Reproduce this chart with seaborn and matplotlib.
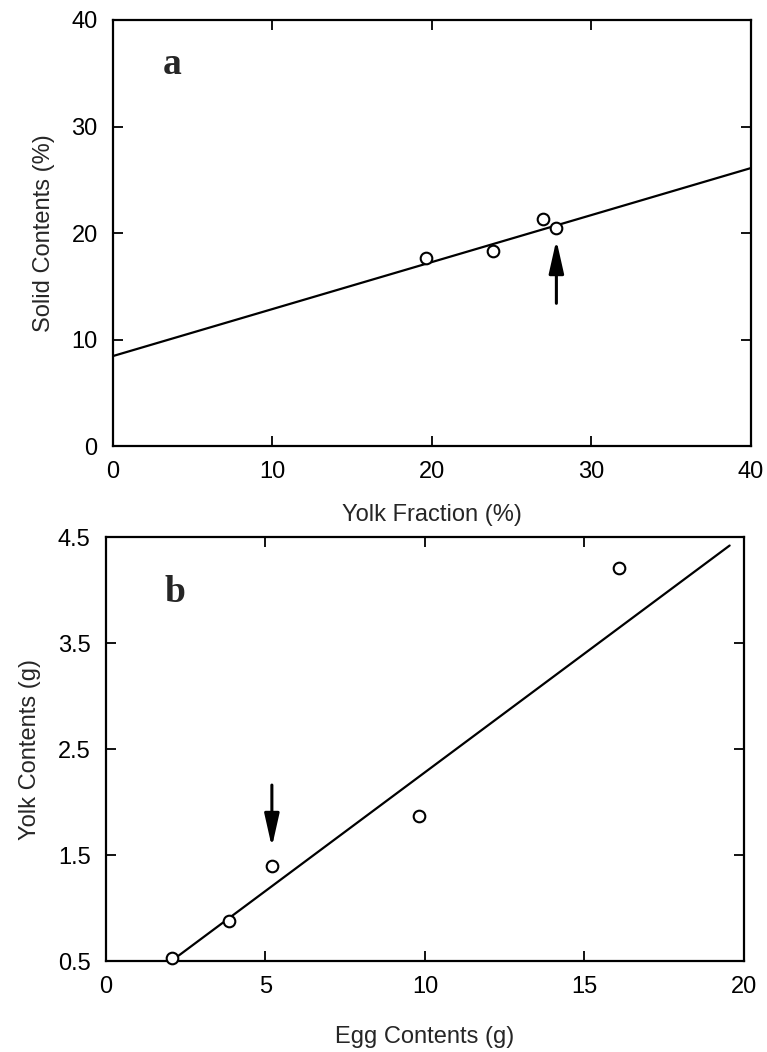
import matplotlib
matplotlib.use("Agg")
import matplotlib.pyplot as plt
import seaborn as sns
import pandas as pd

# ---- data: panel a ----
a_yolk_fraction = [19.6, 23.8, 26.96, 27.8]
a_solid_contents = [17.65, 18.3, 21.3, 20.5]
a_fit_x = [0, 40]
a_fit_y = [8.45, 26.1]
a_arrow_x = 27.8
a_arrow_from = 13.4
a_arrow_to = 19.35
a_xticks = [0, 10, 20, 30, 40]
a_yticks = [0, 10, 20, 30, 40]

# ---- data: panel b ----
b_egg_contents = [2.07, 3.86, 5.2, 9.81, 16.08]
b_yolk_contents = [0.53, 0.88, 1.40, 1.87, 4.21]
b_fit_x = [2.05, 19.55]
b_fit_y = [0.5, 4.42]
b_arrow_x = 5.2
b_arrow_from = 2.16
b_arrow_to = 1.575
b_xticks = [0, 5, 10, 15, 20]
b_yticks = [0.5, 1.5, 2.5, 3.5, 4.5]

sns.set_theme(style="ticks")
plt.rcParams["font.family"] = ["Liberation Sans", "DejaVu Sans"]

fig = plt.figure(figsize=(7.67, 10.52), dpi=100)
ax_a = fig.add_axes([0.1473, 0.5760, 0.8318, 0.4050])
ax_b = fig.add_axes([0.1382, 0.0865, 0.8318, 0.4030])

ARROW = dict(arrowstyle="-|>,head_length=2.0,head_width=0.45", color="black",
             lw=2.2, mutation_scale=10, shrinkA=0, shrinkB=0)

def style(ax, xticks, yticks, xlim, ylim, xlabel, ylabel, xpad):
    ax.set_xlim(*xlim)
    ax.set_ylim(*ylim)
    ax.set_xticks(xticks)
    ax.set_yticks(yticks)
    ax.set_xticklabels([f"{t:g}" for t in xticks])
    ax.set_yticklabels([f"{t:g}" for t in yticks])
    ax.tick_params(direction="in", length=7, width=1.3, top=True, right=True,
                   labelsize=17, colors="black")
    ax.tick_params(axis="x", pad=11)
    ax.tick_params(axis="y", pad=11)
    for s in ax.spines.values():
        s.set_visible(True)
        s.set_linewidth(1.6)
        s.set_color("black")
    ax.set_xlabel(xlabel, fontsize=17, labelpad=xpad)
    ax.set_ylabel(ylabel, fontsize=17, labelpad=12)

# panel a
df_a = pd.DataFrame({"x": a_yolk_fraction, "y": a_solid_contents})
sns.lineplot(x=a_fit_x, y=a_fit_y, ax=ax_a, color="black", linewidth=1.6)
sns.scatterplot(data=df_a, x="x", y="y", ax=ax_a, s=70, facecolor="white",
                edgecolor="black", linewidth=1.5, zorder=3)
ax_a.annotate("", xy=(a_arrow_x, a_arrow_to), xytext=(a_arrow_x, a_arrow_from),
              arrowprops=ARROW)
style(ax_a, a_xticks, a_yticks, (0, 40), (0, 40),
      "Yolk Fraction (%)", "Solid Contents (%)", 15)
ax_a.text(3.7, 35.8, "a", fontsize=27, fontweight="bold",
          family=["Liberation Serif", "DejaVu Serif"], va="center", ha="center")

# panel b
df_b = pd.DataFrame({"x": b_egg_contents, "y": b_yolk_contents})
sns.lineplot(x=b_fit_x, y=b_fit_y, ax=ax_b, color="black", linewidth=1.6)
sns.scatterplot(data=df_b, x="x", y="y", ax=ax_b, s=70, facecolor="white",
                edgecolor="black", linewidth=1.5, zorder=3, clip_on=False)
ax_b.annotate("", xy=(b_arrow_x, b_arrow_to), xytext=(b_arrow_x, b_arrow_from),
              arrowprops=ARROW)
style(ax_b, b_xticks, b_yticks, (0, 20), (0.5, 4.5),
      "Egg Contents (g)", "Yolk Contents (g)", 20)
ax_b.text(2.16, 3.98, "b", fontsize=27, fontweight="bold",
          family=["Liberation Serif", "DejaVu Serif"], va="center", ha="center")

fig.savefig("out.png", dpi=100, facecolor="white")
